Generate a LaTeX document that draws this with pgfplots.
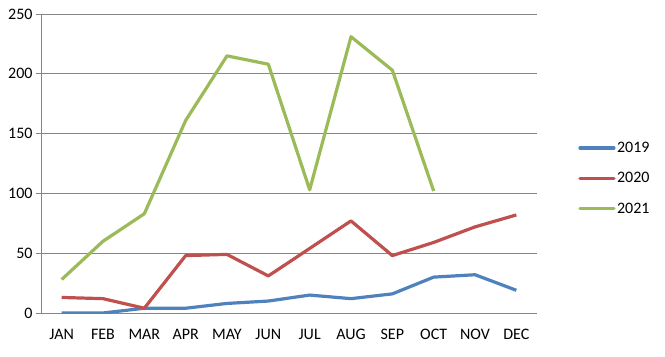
\documentclass[border=0pt]{standalone}
\usepackage{pgfplots}
\pgfplotsset{compat=1.18}
\usepackage{fontspec}
\setmainfont{Carlito}
\definecolor{c19}{HTML}{4F81BD}
\definecolor{c20}{HTML}{C0504D}
\definecolor{c21}{HTML}{9BBB59}
\definecolor{gridc}{HTML}{868686}
\begin{document}
\begin{tikzpicture}[x=1bp,y=1bp]
\useasboundingbox (0,0) rectangle (665,356);
\begin{axis}[
  at={(41bp,43bp)}, anchor=south west,
  width=496bp, height=299bp, scale only axis,
  xmin=-0.5, xmax=11.5, ymin=0, ymax=250,
  xtick={0,...,11},
  xticklabels={JAN,FEB,MAR,APR,MAY,JUN,JUL,AUG,SEP,OCT,NOV,DEC},
  ytick={0,50,...,250},
  major x tick style={draw=none},
  extra x ticks={-0.5,0.5,...,11.5},
  extra x tick labels={},
  extra x tick style={major tick length=5bp, tick style={draw=gridc, line width=0.8bp}},
  tick align=outside,
  major tick length=5bp,
  ytick style={draw=gridc, line width=0.8bp},
  axis x line*=bottom, axis y line*=left,
  axis line style={draw=gridc, line width=0.8bp, -},
  ymajorgrids, grid style={draw=gridc, line width=0.8bp},
  tick label style={font=\fontsize{16bp}{19bp}\selectfont, text=black},
  /pgf/number format/assume math mode=true,
  xticklabel style={yshift=-8bp},
  yticklabel style={xshift=0bp},
  legend style={at={(1.083,0.45)}, anchor=west, draw=none, fill=none,
    font=\fontsize{16bp}{19bp}\selectfont, row sep=14.5bp, inner sep=0pt,
    nodes={inner xsep=1.5bp}},
  legend cell align=left,
  legend image code/.code={\draw[#1, line cap=round] (0bp,0bp) -- (34bp,0bp);},
  every axis plot/.append style={line width=3.2bp, line join=round},
]
\addplot[c19] coordinates {(0,0) (1,0) (2,4) (3,4) (4,8) (5,10) (6,15) (7,12) (8,16) (9,30) (10,32) (11,19)};
\addplot[c20] coordinates {(0,13) (1,12) (2,4) (3,48) (4,49) (5,31) (6,54) (7,77) (8,48) (9,59) (10,72) (11,82)};
\addplot[c21] coordinates {(0,28) (1,60) (2,83) (3,161) (4,215) (5,208) (6,103) (7,231) (8,203) (9,102)};
\legend{2019,2020,2021}
\end{axis}
\end{tikzpicture}
\end{document}
